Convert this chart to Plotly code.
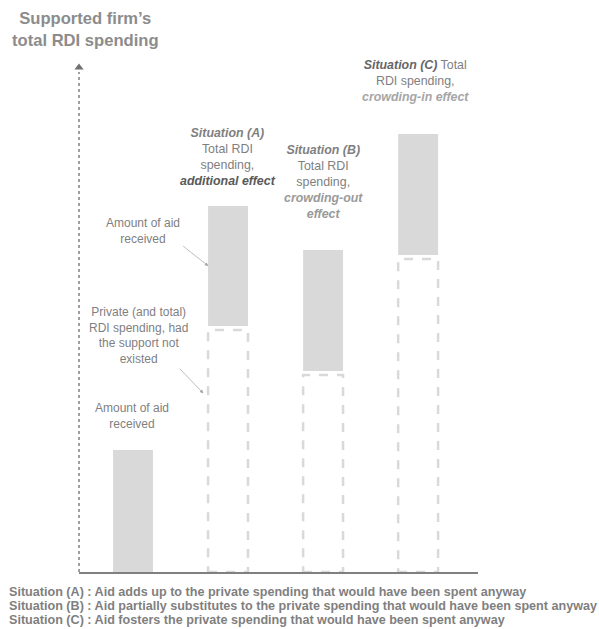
import plotly.graph_objects as go

# ---- data ----
situations = ["Support only", "Situation (A)", "Situation (B)", "Situation (C)"]
x_pos = [0, 1, 2, 3]
private_spending = [0.0, 24.2, 19.7, 31.3]   # counterfactual private RDI (dashed)
aid_received = [12.2, 12.0, 12.1, 12.1]      # aid amount (grey)
gap = 0.4
bar_w = 0.42

notes = [
    "Situation (A) : Aid adds up to the private spending that would have been spent anyway",
    "Situation (B) : Aid partially substitutes to the private spending that would have been spent anyway",
    "Situation (C) : Aid fosters the private spending that would have been spent anyway",
]

FONT = "Liberation Sans, Arial, sans-serif"
GREY_BAR = "#d9d9d9"
TXT = "#7f7f7f"

x_min, x_max = -0.568, 3.63
y_max = 50.7

fig = go.Figure()

bases = [p + gap if p > 0 else 0 for p in private_spending]
fig.add_trace(go.Bar(
    x=x_pos, y=aid_received, base=bases, width=bar_w,
    marker=dict(color=GREY_BAR, line=dict(width=0)),
    hoverinfo="skip", showlegend=False,
))

shapes = []
for xc, p in zip(x_pos, private_spending):
    if p > 0:
        shapes.append(dict(type="rect", xref="x", yref="y",
                           x0=xc - bar_w / 2, x1=xc + bar_w / 2, y0=0, y1=p,
                           line=dict(color=GREY_BAR, width=2.5, dash="dash"),
                           fillcolor="rgba(0,0,0,0)", layer="above"))
shapes.append(dict(type="line", xref="paper", yref="y", x0=0, x1=0, y0=0, y1=50.0,
                   line=dict(color="#808080", width=1.5, dash="dot")))

fig.add_trace(go.Scatter(x=[x_min], y=[50.45], mode="markers",
                         marker=dict(symbol="triangle-up", size=8, color="#707070"),
                         cliponaxis=False, hoverinfo="skip", showlegend=False))

annotations = []
def ann(x, y, text, size=12, xref="x", yref="y", color=TXT, **kw):
    d = dict(x=x, y=y, xref=xref, yref=yref, text=text, showarrow=False,
             font=dict(family=FONT, size=size, color=color), align="center",
             xanchor="center", yanchor="middle")
    d.update(kw)
    annotations.append(d)

# title
ann(0.0175, 1.071, "<b>Supported firm’s<br>total RDI spending</b>", size=16.6,
    xref="paper", yref="paper", color="#8c8c8c")

# situation labels
ann(1.0, 41.55,
    "<b><i>Situation (A)</i></b><br>Total RDI<br>spending,<br>"
    "<b><i><span style='color:#595959'>additional effect</span></i></b>", size=12.4)
ann(2.0, 39.05,
    "<b><i>Situation (B)</i></b><br>Total RDI<br>spending,<br>"
    "<b><i><span style='color:#9a9a9a'>crowding-out<br>effect</span></i></b>", size=12.4)
ann(2.97, 49.15,
    "<b><i><span style='color:#666666'>Situation (C)</span></i></b> Total<br>RDI spending,<br>"
    "<b><i><span style='color:#a6a6a6'>crowding-in effect</span></i></b>", size=12.4)

# left explanatory labels
ann(0.105, 34.15, "Amount of aid<br>received")
ann(0.063, 23.7, "Private (and total)<br>RDI spending, had<br>the support not<br>existed")
ann(-0.01, 15.65, "Amount of aid<br>received")

# pointer arrows
for hx, hy, ax, ay in [((208.3 - 133) / 95, (572 - 266) / 10, -26.6, -21),
                       ((203.3 - 133) / 95, (572 - 393.3) / 10, -25, -26)]:
    annotations.append(dict(x=hx, y=hy, xref="x", yref="y", text="", showarrow=True,
                            ax=ax, ay=ay, arrowhead=2, arrowsize=1, arrowwidth=0.7,
                            arrowcolor="#a0a0a0"))

# bottom notes (one annotation per line for tighter spacing)
for i, line in enumerate(notes):
    py = 591.7 + i * 14.2
    ann(-0.1805, (572 - py) / 507, "<b>" + line + "</b>", size=12.6,
        xref="paper", yref="paper", xanchor="left", align="left")

fig.update_layout(
    width=599, height=629,
    margin=dict(l=79, r=121, t=65, b=57),
    paper_bgcolor="white", plot_bgcolor="white",
    barmode="overlay",
    xaxis=dict(range=[x_min, x_max], showgrid=False, zeroline=False, showticklabels=False,
               ticks="", showline=True, linecolor="#808080", linewidth=2, fixedrange=True),
    yaxis=dict(range=[0, y_max], showgrid=False, zeroline=False, showticklabels=False,
               ticks="", showline=False, fixedrange=True),
    shapes=shapes, annotations=annotations,
    font=dict(family=FONT),
)

fig.write_html("out.html", config={"displayModeBar": False},
               post_script="document.body.style.margin='0';document.body.style.overflow='hidden';")
